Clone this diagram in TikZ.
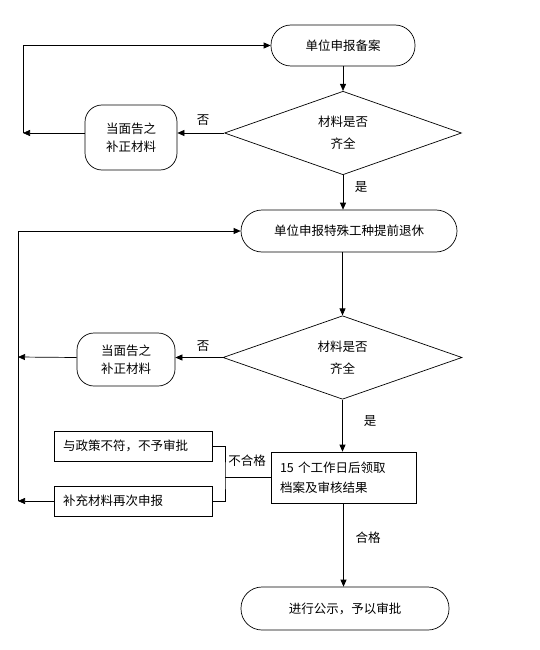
\documentclass[tikz,border=0pt]{standalone}
\usepackage{fontspec}
\setmainfont{Noto Sans CJK SC}
\usetikzlibrary{arrows.meta,shapes.geometric}
\tikzset{
  base/.style={draw=black, line width=0.7pt, inner sep=0pt, align=center, font=\fontsize{12.5}{18}\selectfont},
  stadium/.style={base, rectangle, rounded corners=20pt},
  roundbox/.style={base, rectangle, rounded corners=17pt},
  decision/.style={base, diamond, font=\fontsize{12.5}{22}\selectfont},
  plainbox/.style={base, rectangle, align=left, text width=140pt},
  lbl/.style={font=\fontsize{12.5}{15}\selectfont, inner sep=0pt},
  conn/.style={line width=0.7pt, draw=black},
  arr/.style={conn, -{Triangle[length=7pt,width=6pt]}}
}
\begin{document}
\begin{tikzpicture}[x=1pt,y=-1pt]
\useasboundingbox (0,0) rectangle (540,650);
\fill[white] (0,0) rectangle (540,650);

\node[stadium, minimum width=144pt, minimum height=41pt] (n1) at (343,45.5) {单位申报备案};
\node[decision, minimum width=237pt, minimum height=62pt] (d1) at (343,133) {材料是否\\齐全};
\node[roundbox, minimum width=92pt, minimum height=65pt] (b1) at (131,137.5) {当面告之\\补正材料};
\node[stadium, minimum width=216pt, minimum height=42pt, rounded corners=21pt] (n2) at (349,231) {单位申报特殊工种提前退休};
\node[decision, minimum width=239pt, minimum height=61pt] (d2) at (342.5,357.5) {材料是否\\齐全};
\node[roundbox, minimum width=98pt, minimum height=53pt] (b2) at (126,359.5) {当面告之\\补正材料};
\node[plainbox, minimum width=158pt, minimum height=30pt] (ba) at (133,446) {与政策不符，不予审批};
\node[plainbox, minimum width=158pt, minimum height=30pt] (bb) at (133,501) {补充材料再次申报};
\node[base, rectangle, align=left, text width=127pt, minimum width=145pt, minimum height=51pt, font=\fontsize{12.5}{20}\selectfont] (b3) at (343.5,477.5) {15 个工作日后领取\\档案及审核结果};
\node[stadium, minimum width=208pt, minimum height=43pt, rounded corners=21pt] (n3) at (345,608.5) {进行公示，予以审批};

\coordinate (L1) at (23,133);
\coordinate (L2) at (18,357);
\coordinate (L3) at (18,501);
\coordinate (J) at (225,477.5);

% top loop
\draw[arr] (n1) -- (d1);
\draw[arr] (d1.west) -- (b1.east |- d1.west);
\draw[arr] (b1.west |- d1.west) -- (L1);
\draw[arr] (L1) |- (n1.west);
\draw[arr] (d1.south) -- (d1.south |- n2.north);

% second loop
\draw[arr] (d2.north |- n2.south) -- (d2.north);
\draw[arr] (d2.west) -- (b2.east |- d2.west);
\draw[arr] (b2.west |- d2.west) -- (L2);
\draw[arr] (L3) |- (n2.west);
\draw[arr] (bb.west) -- (L3);
\draw[arr] (d2.south) -- (d2.south |- b3.north);

% bracket
\draw[conn] (ba.east) -| (J) |- (bb.east);
\draw[conn] (b3.west) -- (J);

\draw[arr] (b3.south) -- (b3.south |- n3.north);

% labels
\node[lbl] (l1) at (203,120) {否};
\node[lbl] (l2) at (361,187) {是};
\node[lbl] (l3) at (203,346) {否};
\node[lbl] (l4) at (370,421) {是};
\node[lbl] (l5) at (247,461) {不合格};
\node[lbl] (l6) at (368,538) {合格};
\end{tikzpicture}
\end{document}
